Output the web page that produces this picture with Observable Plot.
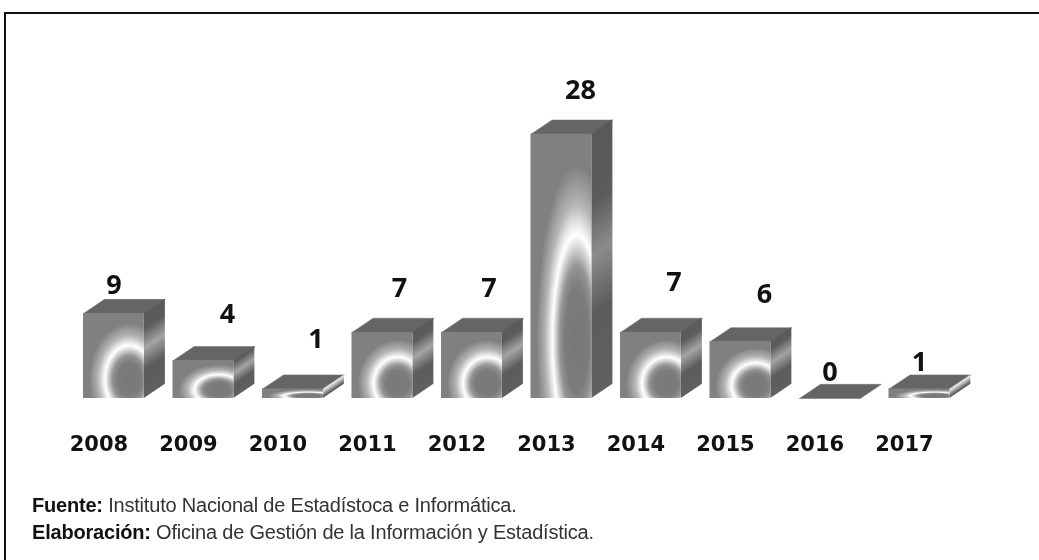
<!DOCTYPE html>
<html>
<head>
<meta charset="utf-8">
<script src="https://cdn.jsdelivr.net/npm/d3@7"></script>
<script src="https://cdn.jsdelivr.net/npm/@observablehq/plot@0.6"></script>
<style>
  html, body { margin: 0; padding: 0; background: #fff; }
  #page { position: relative; width: 1039px; height: 560px; overflow: hidden; filter: blur(0.4px); }
  #page svg { position: absolute; left: 0; top: 0; }
  #edge { position: absolute; left: 4px; top: 12px; right: -4px; bottom: -4px; border-left: 2px solid #111; border-top: 2px solid #111; }
  #caption { position: absolute; left: 32px; top: 492px; font: 20px/27px "Liberation Sans", Arial, sans-serif; color: #333; letter-spacing: -0.2px; white-space: nowrap; }
  #caption b { color: #111; }
</style>
</head>
<body>
<div id="page"><div id="edge"></div><div id="chart"></div>
  <div id="caption">
    <div><b>Fuente:</b> Instituto Nacional de Estadístoca e Informática.</div>
    <div><b>Elaboración:</b> Oficina de Gestión de la Información y Estadística.</div>
  </div>
</div>
<script>
const years  = [2008, 2009, 2010, 2011, 2012, 2013, 2014, 2015, 2016, 2017];
const values = [9, 4, 1, 7, 7, 28, 7, 6, 0, 1];

// label nudges in pixels, relative to the top of each bar's front face
const labelDx = [0, 24, 23, 17, 17, 19, 23, 24, 0, 0];
const labelDy = [-28, -46, -50, -44, -44, -44, -50, -47, -26, -27];

const barWidth = 0.68;   // in x units
const depthX   = 0.235;  // in x units
const depthY   = 1.5;    // in y units

const rows = values.map((v, i) => ({i, v, year: years[i]}));
const sideFace = rows.flatMap(d => [
  {i: d.i, x: d.i + barWidth, y1: 0, y2: d.v},
  {i: d.i, x: d.i + barWidth + depthX, y1: depthY, y2: d.v + depthY}
]);
const topFace = rows.flatMap(d => [
  {i: d.i, x: d.i, y: d.v},
  {i: d.i, x: d.i + barWidth, y: d.v},
  {i: d.i, x: d.i + barWidth + depthX, y: d.v + depthY},
  {i: d.i, x: d.i + depthX, y: d.v + depthY},
  {i: d.i, x: d.i, y: d.v}
]);

function defs() {
  const ns = "http://www.w3.org/2000/svg";
  const el = (n, a, p) => { const e = document.createElementNS(ns, n); for (const k in a) e.setAttribute(k, a[k]); if (p) p.appendChild(e); return e; };
  const d = el("defs", {});
  const r = el("radialGradient", {id: "glow", cx: .76, cy: .78, r: .66}, d);
  [[0, "#787878"], [.3, "#7c7c7c"], [.42, "#949494"], [.56, "#e8e8e8"], [.6, "#ffffff"], [.65, "#ececec"], [.78, "#b4b4b4"], [1, "#808080"]]
    .forEach(([o, c]) => el("stop", {offset: o, "stop-color": c}, r));
  rows.forEach(b => {
    const tilt = depthY / (b.v + depthY);
    const l = el("linearGradient", {id: `side${b.i}`, x1: 0, y1: 0, x2: tilt, y2: 1}, d);
    const peak = b.v <= 1 ? "#e6e6e6" : b.v === 28 ? "#8c8c8c" : "#a4a4a4";
    [[0, "#585858"], [.3, "#5c5c5c"], [.49, peak], [.7, "#5c5c5c"], [1, "#606060"]]
      .forEach(([o, c]) => el("stop", {offset: o, "stop-color": c}, l));
  });
  return d;
}

const plot = Plot.plot({
  width: 1039,
  height: 470,
  margin: 0,
  x: {type: "linear", domain: [-0.9274, 10.6816], axis: null},
  y: {type: "linear", domain: [-7.63, 42.16], axis: null},
  marks: [
    defs,
    Plot.line(topFace, {x: "x", y: "y", z: "i", fill: "#656565", stroke: "#6e6e6e", strokeWidth: 0.5, curve: "linear"}),
    ...rows.filter(d => d.v > 0).map(d =>
      Plot.areaY(sideFace.filter(s => s.i === d.i), {x: "x", y1: "y1", y2: "y2", fill: `url(#side${d.i})`, curve: "linear"})),
    Plot.rect(rows.filter(d => d.v > 0), {x1: "i", x2: d => d.i + barWidth, y1: 0, y2: "v", fill: "url(#glow)"}),
    ...rows.map((d, k) =>
      Plot.text([d], {x: d => d.i + barWidth / 2, y: "v", text: "v", dx: labelDx[k], dy: labelDy[k],
        fontFamily: "Open Sans", fontWeight: 700, fontSize: 27, fill: "#111"})),
    Plot.text(rows, {x: d => d.i + barWidth / 2, y: 0, text: d => String(d.year), dx: -15, dy: 46,
      fontFamily: "DejaVu Sans", fontWeight: 700, fontSize: 21, fill: "#111"})
  ]
});
document.getElementById("chart").appendChild(plot);
</script>
</body>
</html>
